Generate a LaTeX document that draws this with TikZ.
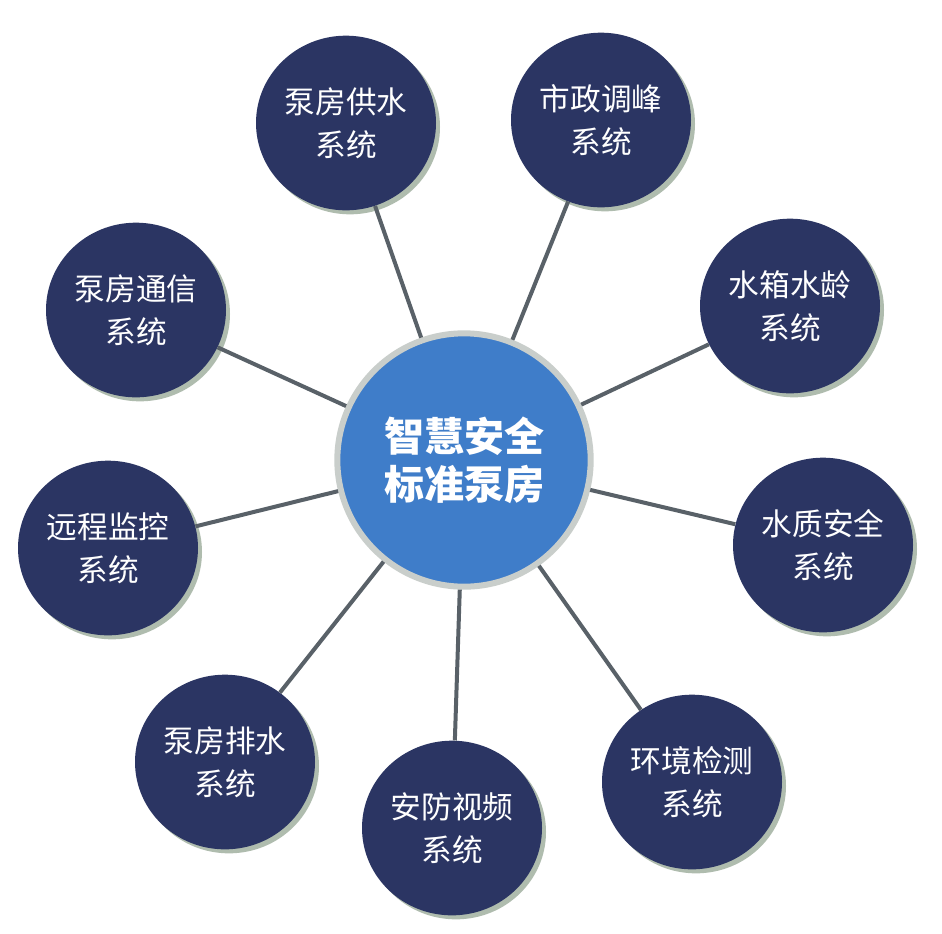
\documentclass[tikz,border=0pt]{standalone}
\usepackage{fontspec}
\setmainfont{Noto Sans CJK SC}
\newfontfamily\cjkbold[BoldFont={Noto Sans CJK SC Bold}]{Noto Sans CJK SC}
\usetikzlibrary{shapes.geometric,shadows}
\definecolor{navy}{HTML}{2B3563}
\definecolor{centerblue}{HTML}{3F7DC9}
\definecolor{rimgray}{HTML}{C9CECB}
\definecolor{shadowcol}{HTML}{A7B5A6}
\definecolor{conncol}{HTML}{596168}
\tikzset{
  sat/.style={ellipse, inner sep=0pt, minimum width=135pt, minimum height=131pt,
    fill=navy, text=white, align=center,
    font=\fontsize{23}{32}\selectfont,
    drop shadow={shadow xshift=3pt, shadow yshift=-3pt, fill=shadowcol, opacity=0.9}},
  hub/.style={circle, inner sep=0pt, minimum size=190pt, fill=centerblue,
    draw=rimgray, line width=4.5pt, text=white, align=center,
    font=\fontsize{30}{36}\selectfont\bfseries},
  conn/.style={draw=conncol, line width=3pt}
}
\begin{document}
\begin{tikzpicture}[x=0.75pt,y=-0.75pt]
\useasboundingbox (0,0) rectangle (942,933);
\fill[white] (0,0) rectangle (942,933);
\node[hub] (c) at (464,460) {智慧安全\\标准泵房};
\node[sat] (s1) at (346,123) {泵房供水\\系统};
\node[sat] (s2) at (601,120) {市政调峰\\系统};
\node[sat] (s3) at (790,306) {水箱水龄\\系统};
\node[sat] (s4) at (823,545) {水质安全\\系统};
\node[sat] (s5) at (692,782) {环境检测\\系统};
\node[sat] (s6) at (452,828) {安防视频\\系统};
\node[sat] (s7) at (225,762) {泵房排水\\系统};
\node[sat] (s8) at (108,548) {远程监控\\系统};
\node[sat] (s9) at (136,310) {泵房通信\\系统};
\foreach \s in {s1,s2,s3,s4,s5,s6,s7,s8,s9}{
  \draw[conn] (c) -- (\s);
}
\end{tikzpicture}
\end{document}
